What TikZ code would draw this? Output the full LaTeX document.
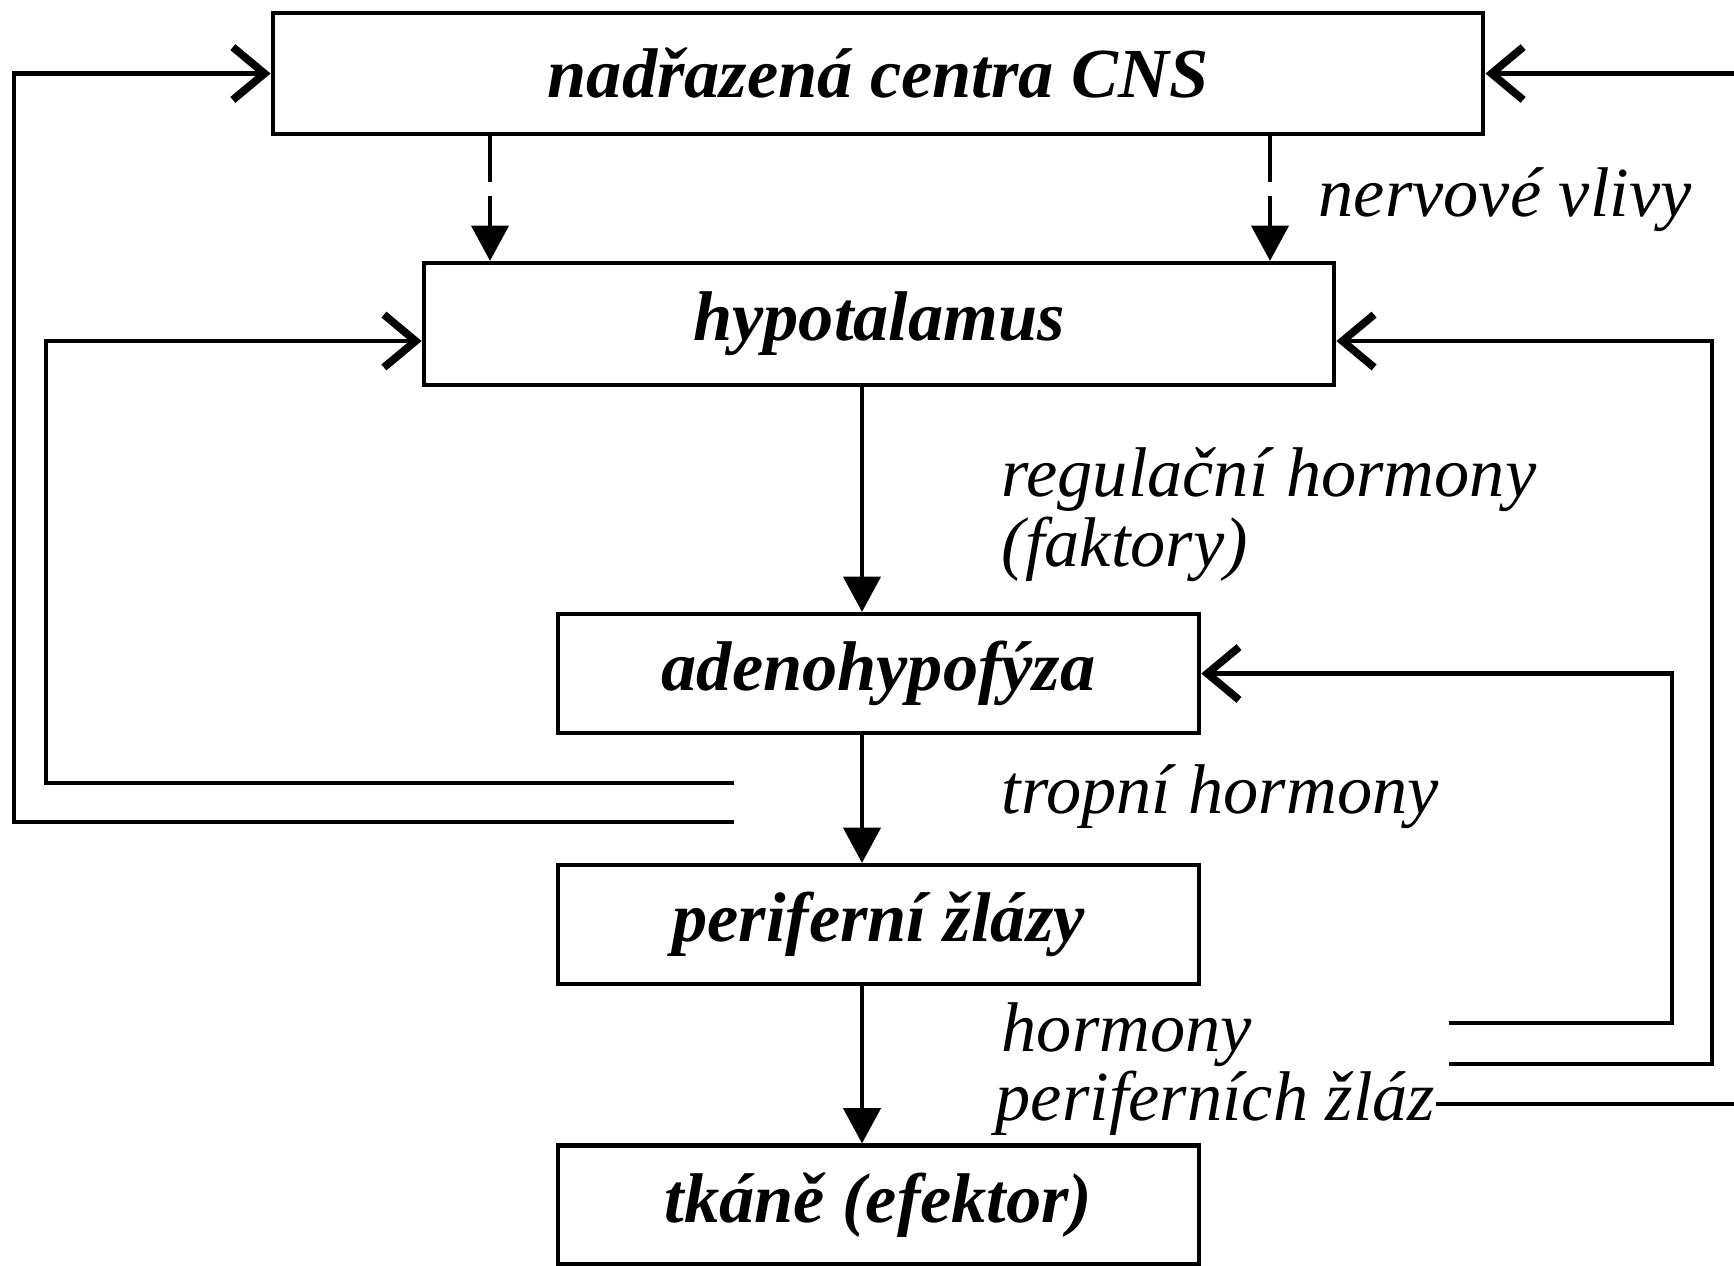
\documentclass[tikz,border=0pt]{standalone}
\usepackage{fontspec}
\setmainfont{Liberation Serif}
\usetikzlibrary{arrows.meta}
\begin{document}
\begin{tikzpicture}[x=0.01cm,y=-0.01cm,
  box/.style={draw, line width=1.2pt, inner sep=0pt, font=\fontsize{20}{24}\selectfont\bfseries\itshape},
  lbl/.style={anchor=base west, inner sep=0pt, font=\fontsize{20}{24}\selectfont\itshape},
  fb/.style={line width=1.2pt, -{Straight Barb[length=9pt,width=15pt,line width=2.2pt]}},
  down/.style={line width=1.2pt, -{Triangle[length=10pt,width=10.5pt]}},
  dsh/.style={dash pattern=on 13pt off 4pt}]
\useasboundingbox (0,0) rectangle (1734,1265);
\fill[white] (0,0) rectangle (1734,1265);
% boxes
\node[box, minimum width=12.1cm, minimum height=1.21cm] (cns) at (878,73.5) {nadřazená centra CNS};
\node[box, minimum width=9.1cm, minimum height=1.22cm] (hypo) at (879,324) {hypotalamus};
\node[box, minimum width=6.41cm, minimum height=1.19cm] (adeno) at (878.5,673.5) {adenohypofýza};
\node[box, minimum width=6.41cm, minimum height=1.19cm] (perif) at (878.5,924.5) {periferní žlázy};
\node[box, minimum width=6.41cm, minimum height=1.19cm] (tkane) at (878.5,1205) {tkáně (efektor)};
% labels
\node[lbl] (nv) at (1318,216) {nervové vlivy};
\node[lbl] (rh) at (1001,496) {regulační hormony};
\node[lbl] (fk) at (1001,566) {(faktory)};
\node[lbl] (th) at (1001,813) {tropní hormony};
\node[lbl] (hm) at (1001,1051) {hormony};
\node[lbl] (pz) at (995,1120) {periferních žláz};
% coordinates
\coordinate (dl) at (490,0);
\coordinate (dr) at (1270,0);
\coordinate (mid) at (862,0);
\coordinate (hy) at (0,341);
\coordinate (pzy) at (0,1104);
% downward arrows
\draw[down, dsh] (dl |- cns.south) -- (dl |- hypo.north);
\draw[down, dsh] (dr |- cns.south) -- (dr |- hypo.north);
\draw[down] (mid |- hypo.south) -- (mid |- adeno.north);
\draw[down] (mid |- adeno.south) -- (mid |- perif.north);
\draw[down] (mid |- perif.south) -- (mid |- tkane.north);
% feedback loops
\coordinate (lo) at (734,822);
\coordinate (li) at (734,783);
\draw[fb] (lo) -- (14,822) |- (cns.west);
\draw[fb] (li) -- (46,783) |- (hypo.west |- hy);
\coordinate (r1) at (1449,1023);
\coordinate (r2) at (1449,1064);
\draw[fb] (r1) -- (1672,1023) |- (adeno.east);
\draw[fb] (r2) -- (1712,1064) |- (hypo.east |- hy);
\draw[fb] (pz.east |- pzy) -- (1736,1104) |- (cns.east);
\end{tikzpicture}
\end{document}
